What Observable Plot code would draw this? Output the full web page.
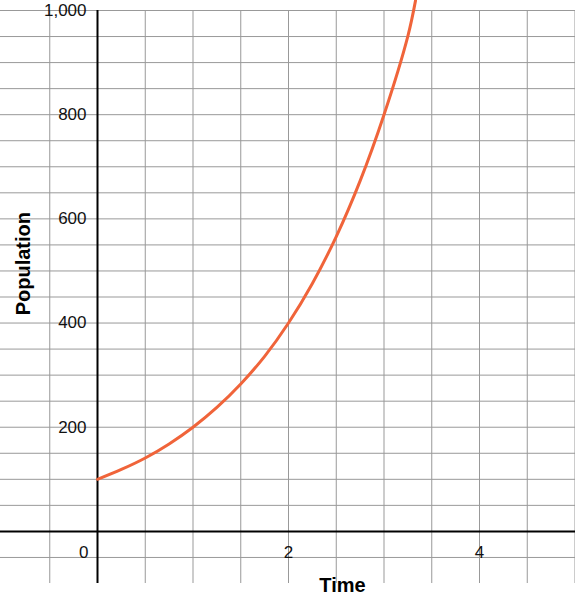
<!DOCTYPE html>
<html>
<head>
<meta charset="utf-8">
<script src="https://cdn.jsdelivr.net/npm/d3@7"></script>
<script src="https://cdn.jsdelivr.net/npm/@observablehq/plot@0.6"></script>
<style>
  html, body { margin: 0; padding: 0; background: #fff; }
  #chart svg { display: block; }
</style>
</head>
<body>
<div id="chart"></div>
<script>
// Population growth over time
const time = [0, 0.25, 0.5, 0.75, 1, 1.25, 1.5, 1.75, 2, 2.25, 2.5, 2.75, 3, 3.25, 3.33];
const population = [100, 119, 141, 168, 200, 238, 283, 336, 400, 476, 566, 673, 800, 951, 1019];

const yTickValues = [200, 400, 600, 800, 1000];
const xTickValues = [2, 4];
const xGrid = [-0.5, 0.5, 1, 1.5, 2, 2.5, 3, 3.5, 4, 4.5, 5];
const yGrid = [-50, 50, 100, 150, 200, 250, 300, 350, 400, 450, 500, 550, 600, 650, 700, 750, 800, 850, 900, 950, 1000];

const series = time.map((t, i) => ({t, p: population[i]}));
const font = "'Liberation Sans', Arial, Helvetica, sans-serif";

const chart = Plot.plot({
  width: 575,
  height: 603,
  margin: 0,
  style: {fontFamily: font, background: "#fff", overflow: "visible"},
  x: {domain: [-1, 5], range: [1.5, 574.5], axis: null},
  y: {domain: [-100, 1000], range: [583, 10], axis: null},
  marks: [
    // grid
    Plot.ruleX(xGrid, {x: d => d, y1: -100, y2: 1000, stroke: "#999", strokeWidth: 1}),
    Plot.ruleY(yGrid, {y: d => d, x1: -1.05, x2: 5.05, stroke: "#999", strokeWidth: 1}),
    // axes through the origin
    Plot.ruleY([0], {x1: -1.05, x2: 5.05, stroke: "#000", strokeWidth: 2}),
    Plot.ruleX([0], {y1: -100, y2: 1000, stroke: "#000", strokeWidth: 2}),
    // tick labels
    Plot.text(yTickValues, {x: 0, y: d => d, text: d => d3.format(",")(d), dx: -11, textAnchor: "end", fontSize: 17, fill: "#111"}),
    Plot.text([0], {x: 0, y: -40, text: d => String(d), dx: -9, textAnchor: "end", fontSize: 17, fill: "#111"}),
    Plot.text(xTickValues, {x: d => d, y: -40, text: d => String(d), fontSize: 17, fill: "#111"}),
    // axis titles
    Plot.text(["Population"], {x: -0.775, y: 514, text: d => d, rotate: -90, fontSize: 20, fontWeight: "bold", fill: "#000"}),
    Plot.text(["Time"], {x: 2.565, y: -104, text: d => d, fontSize: 20, fontWeight: "bold", fill: "#000"}),
    // growth curve
    Plot.line(series, {x: "t", y: "p", curve: "catmull-rom", stroke: "#f0643a", strokeWidth: 3})
  ]
});
document.getElementById("chart").append(chart);
</script>
</body>
</html>
